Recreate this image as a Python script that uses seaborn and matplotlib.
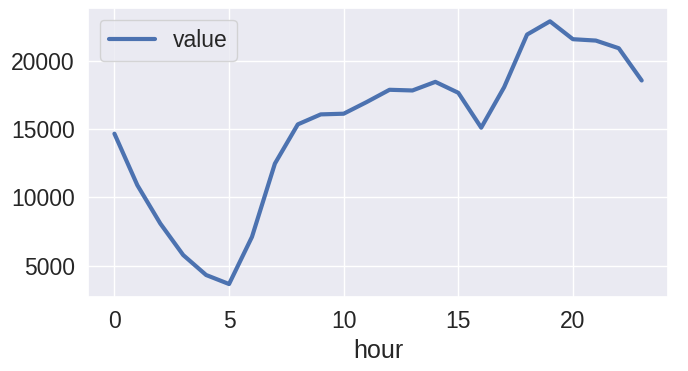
import matplotlib
matplotlib.use("Agg")
import matplotlib.pyplot as plt
import seaborn as sns
import pandas as pd

hours = list(range(24))
values = [14650, 10880, 8080, 5770, 4310, 3650, 7100, 12460, 15330, 16060,
          16110, 16960, 17860, 17810, 18440, 17640, 15090, 18050, 21900, 22870,
          21560, 21460, 20900, 18540]

df = pd.DataFrame({"hour": hours, "value": values})

sns.set_theme(style="darkgrid", font_scale=1.5)
plt.rcParams["font.family"] = ["Liberation Sans", "DejaVu Sans"]

fig, ax = plt.subplots(figsize=(6.88, 3.71), dpi=100)
sns.lineplot(data=df, x="hour", y="value", ax=ax, lw=3, label="value", color="#4C72B0")
ax.set_ylabel("")
ax.set_xticks([0, 5, 10, 15, 20])
ax.tick_params(labelsize=16.5)
ax.xaxis.label.set_size(18)
ax.legend(loc="upper left", fontsize=16.5)
fig.subplots_adjust(left=0.128, right=0.971, top=0.978, bottom=0.199)
fig.savefig("out.png", dpi=100)
